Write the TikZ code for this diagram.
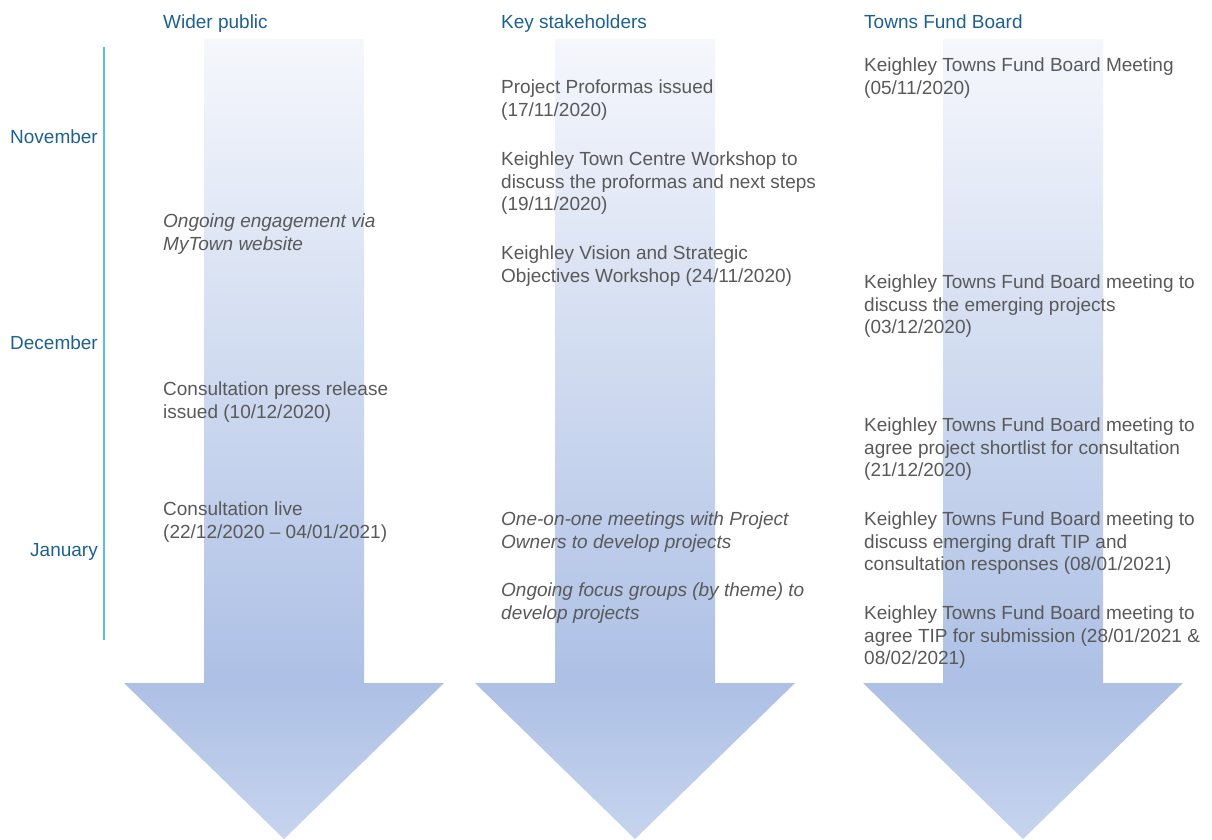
\documentclass[tikz,border=0pt]{standalone}
\usepackage{fontspec}
\setmainfont{Liberation Sans}
\definecolor{arT}{RGB}{245,247,252}
\definecolor{arM}{RGB}{173,192,229}
\definecolor{arB}{RGB}{198,212,238}
\definecolor{hdr}{RGB}{30,97,142}
\definecolor{txt}{RGB}{89,89,89}
\definecolor{tline}{RGB}{86,190,232}
\pgfdeclareverticalshading{arrowsh}{100bp}{color(0bp)=(arB); color(25bp)=(arB); color(34.75bp)=(arM); color(75bp)=(arT); color(100bp)=(arT)}
\begin{document}
\begin{tikzpicture}[x=1pt,y=-1pt,
  bigarrow/.style={shading=arrowsh, draw=none},
  hdrtext/.style={text=hdr, font=\fontsize{19}{22.5}\selectfont, inner sep=0pt},
  month/.style={hdrtext, anchor=base east},
  ev/.style={text=txt, font=\fontsize{19}{22.5}\selectfont, align=left, anchor=north west, inner sep=0pt},
  evi/.style={ev, font=\fontsize{19}{22.5}\selectfont\itshape}]
\useasboundingbox (0,0) rectangle (1212,839);
% arrows
\foreach \c/\n in {284/a1,635/a2,1023/a3}{
  \shade[bigarrow] (\c-80,39) -- (\c+80,39) -- (\c+80,683) -- (\c+160,683) -- (\c,839) -- (\c-160,683) -- (\c-80,683) -- cycle;
}
% timeline
\coordinate (tl1) at (104,47);
\coordinate (tl2) at (104,640);
\draw[tline, line width=1.3pt] (tl1) -- (tl2);
% headers
\node[hdrtext, anchor=base west] (h1) at (163,28) {Wider public};
\node[hdrtext, anchor=base west] (h2) at (501,28) {Key stakeholders};
\node[hdrtext, anchor=base west] (h3) at (864,28) {Towns Fund Board};
% months
\node[month] (m1) at (98,143) {November};
\node[month] (m2) at (98,349) {December};
\node[month] (m3) at (98,556) {January};
% column 1
\node[evi] (c1a) at (163,214) {Ongoing engagement via\\MyTown website};
\node[ev] (c1b) at (163,382) {Consultation press release\\issued (10/12/2020)};
\node[ev] (c1c) at (163,502) {Consultation live\\(22/12/2020 -- 04/01/2021)};
% column 2
\node[ev] (c2a) at (501,80) {Project Proformas issued\\(17/11/2020)};
\node[ev] (c2b) at (501,152) {Keighley Town Centre Workshop to\\discuss the proformas and next steps\\(19/11/2020)};
\node[ev] (c2c) at (501,246) {Keighley Vision and Strategic\\Objectives Workshop (24/11/2020)};
\node[evi] (c2d) at (501,512) {One-on-one meetings with Project\\Owners to develop projects};
\node[evi] (c2e) at (501,583) {Ongoing focus groups (by theme) to\\develop projects};
% column 3
\node[ev] (c3a) at (864,58) {Keighley Towns Fund Board Meeting\\(05/11/2020)};
\node[ev] (c3b) at (864,275) {Keighley Towns Fund Board meeting to\\discuss the emerging projects\\(03/12/2020)};
\node[ev] (c3c) at (864,418) {Keighley Towns Fund Board meeting to\\agree project shortlist for consultation\\(21/12/2020)};
\node[ev] (c3d) at (864,512) {Keighley Towns Fund Board meeting to\\discuss emerging draft TIP and\\consultation responses (08/01/2021)};
\node[ev] (c3e) at (864,606) {Keighley Towns Fund Board meeting to\\agree TIP for submission (28/01/2021 \&\\08/02/2021)};
\end{tikzpicture}
\end{document}
